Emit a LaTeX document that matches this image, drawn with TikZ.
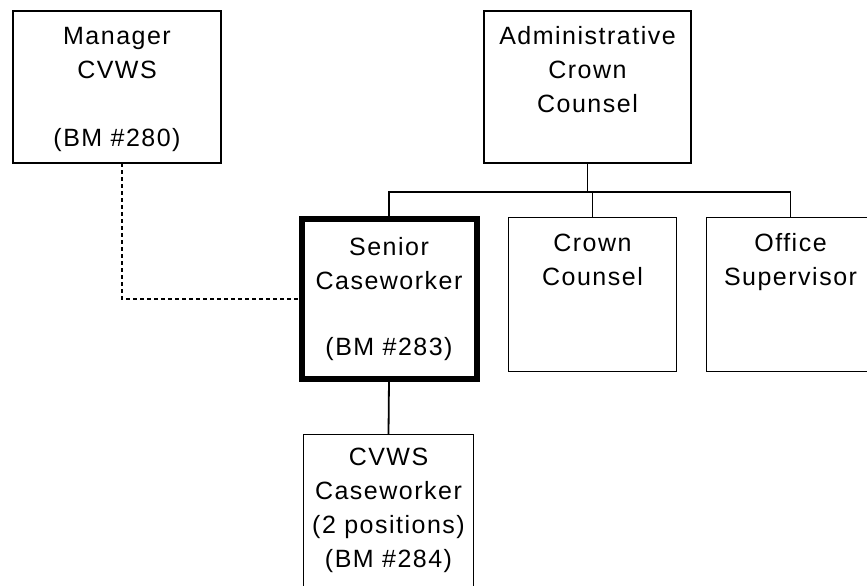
\documentclass[tikz,border=0pt]{standalone}
\usepackage{fontspec}
\setmainfont[LetterSpace=6]{Liberation Sans}
\tikzset{
  post/.style={draw=black, line width=1.8pt, inner sep=0pt, outer sep=0pt,
    anchor=north west, align=center, font=\fontsize{25}{34}\selectfont},
  tie/.style={draw=black, line width=1.8pt},
  dotted tie/.style={tie, dash pattern=on 4pt off 3pt}
}
\begin{document}
\begin{tikzpicture}[x=1pt, y=-1pt]
    \clip[use as bounding box] (0,0) rectangle (867,586);
    \fill[white] (0,0) rectangle (867,586);

    \node[post, text width=208pt, text height=34pt, text depth=118pt] (mgr) at (13,11)
        {Manager\\CVWS\\[34pt](BM \#280)};
    \node[post, text width=207pt, text height=34pt, text depth=118pt] (admin) at (484,11)
        {Administrative\\Crown\\Counsel};
    \node[post, line width=6pt, text width=175pt, text height=36pt, text depth=124pt] (senior) at (301.5,219)
        {Senior\\Caseworker\\[32pt](BM \#283)};
    \node[post, text width=168pt, text height=34pt, text depth=120pt] (crown) at (508.5,217.5)
        {Crown\\Counsel};
    \node[post, text width=168pt, text height=34pt, text depth=120pt] (office) at (706.5,217.5)
        {Office\\Supervisor};
    \node[post, text width=170pt, text height=31pt, text depth=170pt] (cvws) at (303.5,434.5)
        {CVWS\\Caseworker\\(2 positions)\\(BM \#284)};

    \coordinate (bus) at (0,192);
    \draw[tie] (admin.south) -- (admin.south |- bus);
    \draw[tie] (senior.north) -- (senior.north |- bus) -- (office.north |- bus) -- (office.north);
    \draw[tie] (crown.north) -- (crown.north |- bus);
    \draw[tie] (senior.south) -- (cvws.north);

    \draw[dotted tie] ([xshift=5pt]mgr.south) |- (senior.west);
\end{tikzpicture}
\end{document}
